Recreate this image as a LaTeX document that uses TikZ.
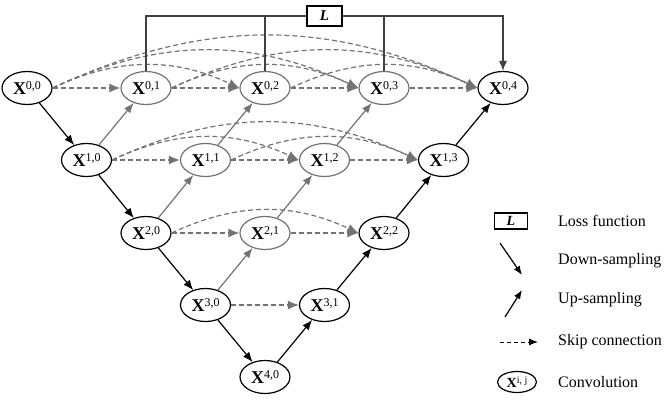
\documentclass[tikz,border=0pt]{standalone}
\usepackage{fontspec}
\setmainfont{Liberation Serif}
\usepackage{tikz}
\usetikzlibrary{arrows.meta,shapes.geometric}

\definecolor{linegray}{gray}{0.45}
\newcommand{\xnode}[1]{{\bfseries X}\raisebox{5pt}{\fontsize{12}{12}\selectfont #1}}

\tikzset{
  conv/.style={ellipse,draw,line width=1.2pt,minimum width=50pt,minimum height=33pt,inner sep=0pt,font=\fontsize{18}{20}\selectfont},
  convgray/.style={conv,draw=linegray},
  sample/.style={line width=1.2pt,-{Latex[length=10pt,width=8pt]}},
  samplegray/.style={sample,draw=linegray},
  skip/.style={draw=linegray,line width=1.2pt,dash pattern=on 5pt off 3pt,-{Latex[length=11pt,width=9pt]}},
  lossbox/.style={draw,line width=1.2pt,minimum width=35pt,minimum height=20pt,inner sep=0pt,font=\fontsize{15}{15}\selectfont\bfseries\itshape},
  legtext/.style={anchor=west,inner sep=0pt,font=\fontsize{16}{18}\selectfont}
}

\begin{document}
\begin{tikzpicture}[x=1pt,y=-1pt]
\useasboundingbox (0,0) rectangle (669,404);
% backbone
\node[conv] (x00) at (27,88) {\xnode{0,0}};
\node[conv] (x10) at (86.5,160) {\xnode{1,0}};
\node[conv] (x20) at (146,233) {\xnode{2,0}};
\node[conv] (x30) at (205.5,305) {\xnode{3,0}};
\node[conv] (x40) at (265,377) {\xnode{4,0}};
\node[conv] (x31) at (324.5,305) {\xnode{3,1}};
\node[conv] (x22) at (384,233) {\xnode{2,2}};
\node[conv] (x13) at (443.5,160) {\xnode{1,3}};
\node[conv] (x04) at (503,88) {\xnode{0,4}};
% nested nodes
\node[convgray] (x01) at (146,88) {\xnode{0,1}};
\node[convgray] (x02) at (265,88) {\xnode{0,2}};
\node[convgray] (x03) at (384,88) {\xnode{0,3}};
\node[convgray] (x11) at (205.5,160) {\xnode{1,1}};
\node[convgray] (x12) at (324.5,160) {\xnode{1,2}};
\node[convgray] (x21) at (265,233) {\xnode{2,1}};
\node[lossbox] (loss) at (324.5,16) {L};

% down-sampling
\draw[sample] (x00) -- (x10);
\draw[sample] (x10) -- (x20);
\draw[sample] (x20) -- (x30);
\draw[sample] (x30) -- (x40);
% up-sampling
\draw[sample] (x40) -- (x31);
\draw[sample] (x31) -- (x22);
\draw[sample] (x22) -- (x13);
\draw[sample] (x13) -- (x04);
\draw[samplegray] (x10) -- (x01);
\draw[samplegray] (x11) -- (x02);
\draw[samplegray] (x12) -- (x03);
\draw[samplegray] (x20) -- (x11);
\draw[samplegray] (x21) -- (x12);
\draw[samplegray] (x30) -- (x21);

% skip connections
\draw[skip] (x00) -- (x01);
\draw[skip] (x01) -- (x02);
\draw[skip] (x02) -- (x03);
\draw[skip] (x03) -- (x04);
\draw[skip] (x10) -- (x11);
\draw[skip] (x11) -- (x12);
\draw[skip] (x12) -- (x13);
\draw[skip] (x20) -- (x21);
\draw[skip] (x21) -- (x22);
\draw[skip] (x30) -- (x31);
\draw[skip] (x00.east) to[bend left=25] (x02.west);
\draw[skip] (x00.east) to[bend left=25] (x03.west);
\draw[skip] (x00.east) to[bend left=25] (x04.west);
\draw[skip] (x01.east) to[bend left=25] (x03.west);
\draw[skip] (x01.east) to[bend left=25] (x04.west);
\draw[skip] (x02.east) to[bend left=25] (x04.west);
\draw[skip] (x10.east) to[bend left=25] (x12.west);
\draw[skip] (x10.east) to[bend left=25] (x13.west);
\draw[skip] (x11.east) to[bend left=25] (x13.west);
\draw[skip] (x20.east) to[bend left=25] (x22.west);

% deep supervision
\draw[line width=1.2pt,draw=black!75] (x01.north) |- (loss.west);
\draw[line width=1.2pt,draw=black!75] (x02.north) -- (x02.north |- loss.west);
\draw[line width=1.2pt,draw=black!75] (x03.north) -- (x03.north |- loss.east);
\draw[sample,draw=black!75] (loss.east) -| (x04.north);

% legend
\node[lossbox,minimum width=33pt,minimum height=16pt,font=\fontsize{14}{14}\selectfont\bfseries\itshape] (legloss) at (511,221) {L};
\node[legtext] (txtloss) at (558,221) {Loss function};
\coordinate (downA) at (500,243);
\coordinate (downB) at (522,275);
\draw[line width=1.2pt,-{Latex[length=9pt,width=7pt]}] (downA) -- (downB);
\node[legtext] (txtdown) at (558,261) {Down-sampling};
\coordinate (upA) at (505,317);
\coordinate (upB) at (522,290);
\draw[line width=1.2pt,-{Latex[length=9pt,width=7pt]}] (upA) -- (upB);
\node[legtext] (txtup) at (558,300) {Up-sampling};
\coordinate (skipA) at (500,342);
\coordinate (skipB) at (538,342);
\draw[line width=1pt,dash pattern=on 4pt off 3pt,-{Latex[length=9pt,width=7pt]}] (skipA) -- (skipB);
\node[legtext] (txtskip) at (558,342) {Skip connection};
\node[conv,minimum width=39pt,minimum height=21pt,font=\fontsize{14}{16}\selectfont] (legconv) at (517,382) {{\bfseries X}\raisebox{4pt}{\fontsize{10}{10}\selectfont i, j}};
\node[legtext] (txtconv) at (558,382) {Convolution};
\end{tikzpicture}
\end{document}
